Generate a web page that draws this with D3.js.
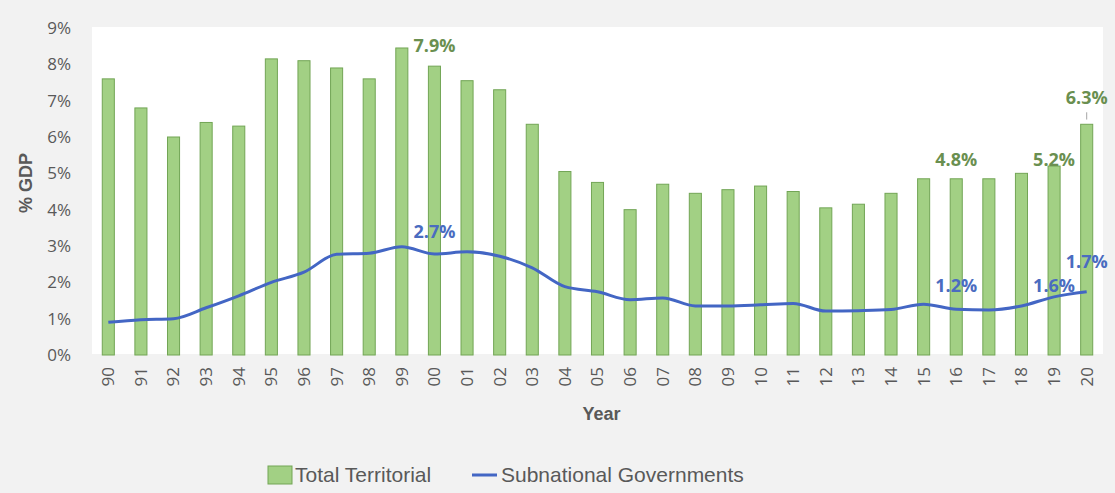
<!DOCTYPE html>
<html>
<head>
<meta charset="utf-8">
<script src="https://cdn.jsdelivr.net/npm/d3@7"></script>
<style>
  html, body { margin: 0; padding: 0; background: #f2f2f2; }
  svg { display: block; }
</style>
</head>
<body>
<svg id="chart" width="1115" height="493"></svg>
<script>
// years (tick labels) and the two series, in % of GDP
const years = ["90","91","92","93","94","95","96","97","98","99","00","01","02","03","04","05",
               "06","07","08","09","10","11","12","13","14","15","16","17","18","19","20"];
const totalTerritorial = [7.6, 6.8, 6.0, 6.4, 6.3, 8.15, 8.1, 7.9, 7.6, 8.45, 7.95, 7.55, 7.3, 6.35, 5.05, 4.75,
                          4.0, 4.7, 4.45, 4.55, 4.65, 4.5, 4.05, 4.15, 4.45, 4.85, 4.85, 4.85, 5.0, 5.2, 6.35];
const subnational = [0.9, 0.97, 1.0, 1.3, 1.63, 2.0, 2.28, 2.77, 2.8, 2.98, 2.78, 2.84, 2.72, 2.4, 1.88, 1.74,
                     1.52, 1.57, 1.35, 1.35, 1.38, 1.42, 1.21, 1.22, 1.25, 1.4, 1.26, 1.24, 1.35, 1.6, 1.74];
const yTicks = [0, 1, 2, 3, 4, 5, 6, 7, 8, 9];

// data labels: which column they sit over, text, and baseline height (in % units)
const labelYears = ["00", "00", "16", "19", "20", "16", "19", "20"];
const labelTexts = ["7.9%", "2.7%", "4.8%", "5.2%", "6.3%", "1.2%", "1.6%", "1.7%"];
const labelLevels = [8.35, 3.22, 5.2, 5.2, 6.91, 1.74, 1.74, 2.4];
const labelSeries = ["bar", "line", "bar", "bar", "bar", "line", "line", "line"];

const svg = d3.select("#chart");

const GREEN_FILL = "#a2d084";
const GREEN_EDGE = "#72a555";
const GREEN_TEXT = "#6a8f50";
const BLUE = "#4366c4";
const BLUE_TEXT = "#4a6cc0";
const GREY_TEXT = "#595959";

const plot = { left: 92, right: 1103, top: 27, bottom: 354 };

const x = d3.scaleBand()
  .domain(years)
  .range([plot.left, plot.right])
  .paddingInner(0.63)
  .paddingOuter(0.315);

const y = d3.scaleLinear()
  .domain([0, 9])
  .range([355, 28]);

// white plot area
svg.append("rect")
  .attr("x", plot.left)
  .attr("y", plot.top)
  .attr("width", plot.right - plot.left)
  .attr("height", plot.bottom - plot.top)
  .attr("fill", "#ffffff");

// --- Y tick labels ---
svg.append("g")
  .selectAll("text")
  .data(yTicks)
  .enter()
  .append("text")
  .attr("x", 71)
  .attr("y", d => y(d))
  .attr("dy", "0.35em")
  .attr("text-anchor", "end")
  .style("font-family", "'Open Sans', sans-serif")
  .style("font-size", "17px")
  .attr("fill", GREY_TEXT)
  .text(d => d + "%");

// --- Bars ---
svg.append("g")
  .selectAll("rect")
  .data(years)
  .enter()
  .append("rect")
  .attr("x", d => x(d))
  .attr("y", (d, i) => y(totalTerritorial[i]))
  .attr("width", x.bandwidth())
  .attr("height", (d, i) => y(0) - y(totalTerritorial[i]))
  .attr("fill", GREEN_FILL)
  .attr("stroke", GREEN_EDGE)
  .attr("stroke-width", 1);

// --- Line (Excel-style smoothed) ---
const line = d3.line()
  .x((d, i) => x(years[i]) + x.bandwidth() / 2)
  .y(d => y(d))
  .curve(d3.curveMonotoneX);

svg.append("path")
  .datum(subnational)
  .attr("d", line)
  .attr("fill", "none")
  .attr("stroke", BLUE)
  .attr("stroke-width", 3)
  .attr("stroke-linejoin", "round");

// --- X tick labels (rotated) ---
svg.append("g")
  .selectAll("text")
  .data(years)
  .enter()
  .append("text")
  .attr("transform", d => `translate(${x(d) + x.bandwidth() / 2},367) rotate(-90)`)
  .attr("dy", "0.35em")
  .attr("text-anchor", "end")
  .style("font-family", "'Open Sans', sans-serif")
  .style("font-size", "17px")
  .attr("fill", GREY_TEXT)
  .text(d => d);

// --- data labels ---
svg.append("g")
  .selectAll("text")
  .data(labelTexts)
  .enter()
  .append("text")
  .attr("x", (d, i) => x(labelYears[i]) + x.bandwidth() / 2)
  .attr("y", (d, i) => y(labelLevels[i]))
  .attr("text-anchor", "middle")
  .style("font-family", "'Open Sans', sans-serif")
  .style("font-size", "18px")
  .style("font-weight", "bold")
  .attr("fill", (d, i) => labelSeries[i] === "bar" ? GREEN_TEXT : BLUE_TEXT)
  .text(d => d);

// leader line for the 2020 bar label
const lx = x("20") + x.bandwidth() / 2;
svg.append("line")
  .attr("x1", lx).attr("x2", lx)
  .attr("y1", y(6.68)).attr("y2", y(6.48))
  .attr("stroke", "#a6a6a6")
  .attr("stroke-width", 1);

// --- axis titles ---
svg.append("text")
  .attr("x", (plot.left + plot.right) / 2 + 4)
  .attr("y", 420)
  .attr("text-anchor", "middle")
  .style("font-family", "'Liberation Sans', Arial, sans-serif")
  .style("font-size", "18px")
  .style("font-weight", "bold")
  .attr("fill", GREY_TEXT)
  .text("Year");

svg.append("text")
  .attr("transform", "translate(32,183) rotate(-90)")
  .attr("text-anchor", "middle")
  .style("font-family", "'Liberation Sans', Arial, sans-serif")
  .style("font-size", "18px")
  .style("font-weight", "bold")
  .attr("fill", GREY_TEXT)
  .text("% GDP");

// --- legend ---
const legend = svg.append("g").attr("transform", "translate(268,475)");

legend.append("rect")
  .attr("x", 0).attr("y", -9)
  .attr("width", 24).attr("height", 18)
  .attr("fill", GREEN_FILL)
  .attr("stroke", GREEN_EDGE);

legend.append("text")
  .attr("x", 27).attr("y", 0)
  .attr("dy", "0.35em")
  .style("font-family", "'Liberation Sans', Arial, sans-serif")
  .style("font-size", "21px")
  .attr("fill", GREY_TEXT)
  .text("Total Territorial");

legend.append("line")
  .attr("x1", 204).attr("x2", 229)
  .attr("y1", 0).attr("y2", 0)
  .attr("stroke", BLUE)
  .attr("stroke-width", 3);

legend.append("text")
  .attr("x", 233).attr("y", 0)
  .attr("dy", "0.35em")
  .style("font-family", "'Liberation Sans', Arial, sans-serif")
  .style("font-size", "21px")
  .attr("fill", GREY_TEXT)
  .text("Subnational Governments");
</script>
</body>
</html>
